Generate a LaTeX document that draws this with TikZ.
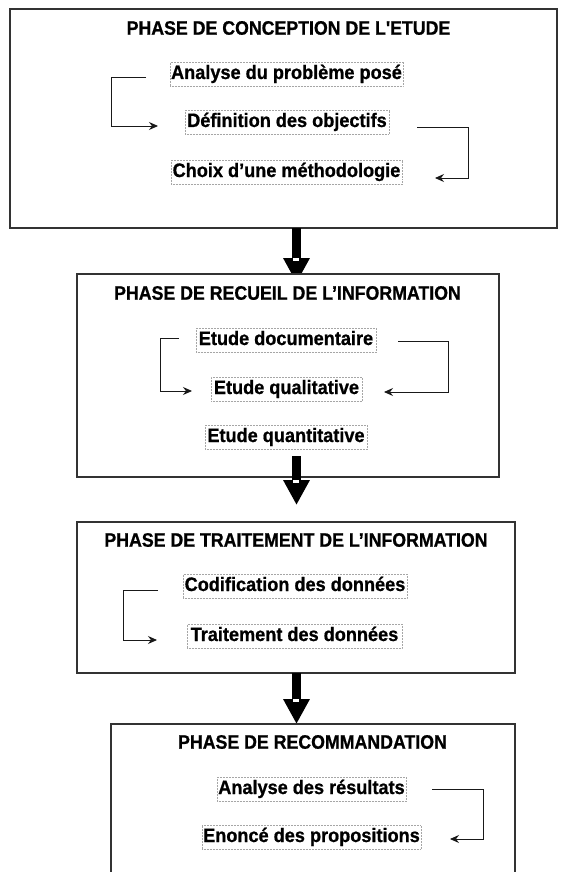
\documentclass[tikz,border=0pt]{standalone}
\usepackage{fontspec}
\setmainfont{Liberation Sans}
\newfontfamily\phasefont[FakeStretch=0.91,FakeBold=0.8]{Liberation Sans}
\newfontfamily\itemfont[FakeStretch=0.93,FakeBold=0.8]{Liberation Sans}
\usetikzlibrary{arrows.meta}

\tikzset{
  phasebox/.style={draw=black!80, line width=1.3pt, fill=white, inner sep=0pt},
  phasetitle/.style={font=\phasefont\bfseries\fontsize{19.5}{22}\selectfont, inner sep=0pt},
  stepbox/.style={draw=black!35, densely dotted, line width=0.5pt, inner xsep=1pt,
    inner ysep=3pt, text height=14pt, text depth=4pt,
    font=\itemfont\bfseries\fontsize{19.5}{22}\selectfont},
  link/.style={draw=black!90, line width=0.9pt, -{Stealth[length=9pt,width=8pt,inset=3pt]}},
  bigarrow/.style={draw=black, line width=9pt, line cap=butt,
    -{Triangle[length=25pt,width=25pt]}},
  notch/.style={fill=white, draw=none, minimum width=6pt, minimum height=3pt, inner sep=0pt},
}

\begin{document}
\begin{tikzpicture}[x=1pt,y=-1pt]
\useasboundingbox[fill=white] (0,0) rectangle (560,872);

% ---------- Phase 1 ----------
\node[phasebox, minimum width=547pt, minimum height=219pt] (p1) at (283.5,118.5) {};
\node[phasetitle] (t1) at (288.5,28) {PHASE DE CONCEPTION DE L'ETUDE};
\node[stepbox, minimum width=233pt] (a1) at (286.5,74) {Analyse du problème posé};
\node[stepbox, minimum width=204pt] (a2) at (287,122) {Définition des objectifs};
\node[stepbox, minimum width=231pt] (a3) at (286.5,172) {Choix d’une méthodologie};
\coordinate (a1l) at (146,77);
\coordinate (a2l) at (158,126);
\coordinate (a2r) at (417,127);
\coordinate (a3r) at (435,178);
\draw[link] (a1l) -- (111,77) |- (a2l);
\draw[link] (a2r) -- (468,127) |- (a3r);

% arrow towards phase 2 (its tip runs under the next box)
\coordinate (s1) at (296.5,228);
\coordinate (e1) at (296.5,283);
\draw[bigarrow] (s1) -- (e1);
\node[notch] (n1) at (296,259.5) {};

% ---------- Phase 2 ----------
\node[phasebox, minimum width=422pt, minimum height=203pt] (p2) at (288,375.5) {};
\node[phasetitle] (t2) at (287.5,293) {PHASE DE RECUEIL DE L’INFORMATION};
\node[stepbox, minimum width=180pt] (b1) at (286,340) {Etude documentaire};
\node[stepbox, minimum width=151pt] (b2) at (286.5,389) {Etude qualitative};
\node[stepbox, minimum width=162pt] (b3) at (286,437) {Etude quantitative};
\coordinate (b1l) at (179,338);
\coordinate (b2l) at (192,391);
\coordinate (b1r) at (398,341);
\coordinate (b2r) at (384,392);
\draw[link] (b1l) -- (160,338) |- (b2l);
\draw[link] (b1r) -- (448,341) |- (b2r);

\coordinate (s2) at (296.5,456);
\coordinate (e2) at (296.5,505);
\draw[bigarrow] (s2) -- (e2);
\node[notch] (n2) at (296,481.5) {};

% ---------- Phase 3 ----------
\node[phasebox, minimum width=438pt, minimum height=151pt] (p3) at (296,597.5) {};
\node[phasetitle] (t3) at (296,540) {PHASE DE TRAITEMENT DE L’INFORMATION};
\node[stepbox, minimum width=224pt] (c1) at (295,586) {Codification des données};
\node[stepbox, minimum width=215pt] (c2) at (294.5,636) {Traitement des données};
\coordinate (c1l) at (158,590);
\coordinate (c2l) at (157,640);
\draw[link] (c1l) -- (123,590) |- (c2l);

\coordinate (s3) at (296.5,673);
\coordinate (e3) at (296.5,724);
\draw[bigarrow] (s3) -- (e3);
\node[notch] (n3) at (296,700.5) {};

% ---------- Phase 4 ----------
\node[phasebox, minimum width=404pt, minimum height=152pt] (p4) at (313,800) {};
\node[phasetitle] (t4) at (312.5,742) {PHASE DE RECOMMANDATION};
\node[stepbox, minimum width=189pt] (d1) at (311.5,789) {Analyse des résultats};
\node[stepbox, minimum width=215pt] (d2) at (311.5,837) {Enoncé des propositions};
\coordinate (d1r) at (432,789);
\coordinate (d2r) at (450,839);
\draw[link] (d1r) -- (483,789) |- (d2r);
\end{tikzpicture}
\end{document}
